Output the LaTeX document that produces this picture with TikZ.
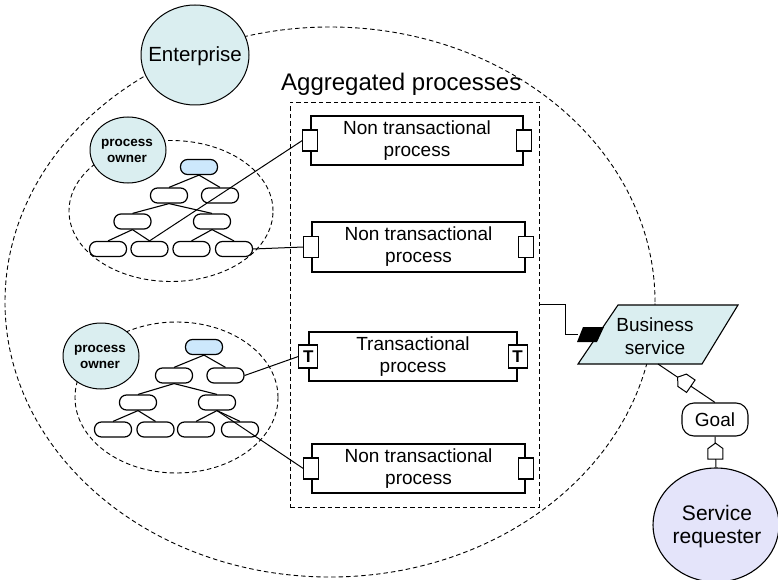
\documentclass[tikz,border=0pt]{standalone}
\usepackage{fontspec}
\setmainfont{Liberation Sans}
\usetikzlibrary{shapes.geometric}
\definecolor{cyanfill}{HTML}{DAEEF0}
\definecolor{lavfill}{HTML}{E4E4FA}
\definecolor{rootfill}{HTML}{CDE8FC}
\begin{document}
\begin{tikzpicture}[x=1pt,y=-1pt,
  dsh/.style={draw, dash pattern=on 4.5pt off 3pt, line width=0.9pt},
  ownr/.style={ellipse, draw, fill=cyanfill, line width=1pt, minimum width=76pt, minimum height=66pt, inner sep=0pt},
  ownrtext/.style={align=center, inner sep=0pt, font=\bfseries\fontsize{13.5}{15.5}\selectfont},
  tnode/.style={draw, rounded corners=7pt, minimum width=37pt, minimum height=15pt, inner sep=0pt, line width=1.2pt},
  proc/.style={draw, line width=1.3pt, inner sep=0pt, align=center, font=\fontsize{19}{22}\selectfont},
  port/.style={draw, fill=white, line width=1.1pt, minimum width=15pt, minimum height=21pt, inner sep=0pt},
  tport/.style={draw, fill=white, line width=1.1pt, minimum width=19pt, minimum height=23pt, inner sep=0pt, font=\bfseries\fontsize{17}{17}\selectfont},
  conn/.style={line width=1pt},
  tedge/.style={line width=1.1pt},
  iface/.pic={\draw[fill=white, line width=1pt] (-7.5,8) -- (7.5,8) -- (7.5,-2.5) -- (0,-8) -- (-7.5,-2.5) -- cycle;}
]
\useasboundingbox (0,0) rectangle (778,580);

% big enterprise boundary
\node[ellipse, dsh, minimum width=650pt, minimum height=550pt, inner sep=0pt] (entb) at (330,302) {};
% aggregated processes box
\node[dsh, minimum width=249pt, minimum height=405pt, inner sep=0pt] (agg) at (414.5,304.5) {};
\node[anchor=base west, font=\fontsize{24}{28}\selectfont, inner sep=0pt] (aggl) at (281,91) {Aggregated processes};

% group ellipses
\node[ellipse, dsh, minimum width=204pt, minimum height=141pt, inner sep=0pt] (grp1) at (171,211) {};
\node[ellipse, dsh, minimum width=203pt, minimum height=151pt, inner sep=0pt] (grp2) at (176.5,397.5) {};

% enterprise
\node[ellipse, draw, fill=cyanfill, line width=1pt, minimum width=108pt, minimum height=100pt, inner sep=0pt] (ent) at (195,55) {};
\node[font=\fontsize{20.5}{24}\selectfont, inner sep=0pt] (entt) at (195,56) {Enterprise};

% process owners
\node[ownr] (own1) at (128,150) {};
\node[ownrtext] (own1t) at (127,151) {process\\owner};
\node[ownr] (own2) at (101,356) {};
\node[ownrtext] (own2t) at (100,357) {process\\owner};

% tree 1
\node[tnode, fill=rootfill] (r1) at (199,167) {};
\node[tnode] (a1) at (169,195.5) {};
\node[tnode] (b1) at (220,195.5) {};
\node[tnode] (c1) at (132.5,221.5) {};
\node[tnode] (d1) at (212,221.5) {};
\node[tnode] (e1) at (108,249) {};
\node[tnode] (f1) at (149.5,249) {};
\node[tnode] (g1) at (191.5,249) {};
\node[tnode] (h1) at (234,249) {};
\draw[tedge] (r1.south) -- (a1.north);
\draw[tedge] (r1.south) -- (b1.north);
\draw[tedge] (a1.south) -- (c1.north);
\draw[tedge] (a1.south) -- (d1.north);
\draw[tedge] (c1.south) -- (e1.north);
\draw[tedge] (c1.south) -- (f1.north);
\draw[tedge] (d1.south) -- (g1.north);
\draw[tedge] (d1.south) -- (h1.north);

% tree 2
\node[tnode, fill=rootfill] (r2) at (204,347) {};
\node[tnode] (a2) at (174,375.5) {};
\node[tnode] (b2) at (225.5,375.5) {};
\node[tnode] (c2) at (138,402.5) {};
\node[tnode] (d2) at (217,402.5) {};
\node[tnode] (e2) at (113,429.5) {};
\node[tnode] (f2) at (155.5,429.5) {};
\node[tnode] (g2) at (196,429.5) {};
\node[tnode] (h2) at (240,429.5) {};
\draw[tedge] (r2.south) -- (a2.north);
\draw[tedge] (r2.south) -- (b2.north);
\draw[tedge] (a2.south) -- (c2.north);
\draw[tedge] (a2.south) -- (d2.north);
\draw[tedge] (c2.south) -- (e2.north);
\draw[tedge] (c2.south) -- (f2.north);
\draw[tedge] (d2.south) -- (g2.north);
\draw[tedge] (d2.south) -- (h2.north);

% processes
\node[proc, minimum width=212pt, minimum height=49pt] (p1) at (417,140.5) {Non transactional\\process};
\node[port] (p1l) at (p1.west) {};
\node[port] (p1r) at (p1.east) {};
\node[proc, minimum width=213pt, minimum height=50pt] (p2) at (418.5,247) {Non transactional\\process};
\node[port] (p2l) at (p2.west) {};
\node[port] (p2r) at (p2.east) {};
\node[proc, minimum width=208pt, minimum height=49pt] (p3) at (413,356.5) {Transactional\\process};
\node[tport] (p3l) at (p3.west) {T};
\node[tport] (p3r) at (p3.east) {T};
\node[proc, minimum width=213pt, minimum height=49pt] (p4) at (418.5,468.5) {Non transactional\\process};
\node[port] (p4l) at (p4.west) {};
\node[port] (p4r) at (p4.east) {};

% connectors trees -> processes
\draw[conn] (f1.north) -- (p1l.west);
\draw[conn] (h1.east) -- (p2l.west);
\draw[conn] (b2.east) -- (p3l.west);
\draw[conn] (d2.south) -- (p4l.west);

% business service
\coordinate (bsA) at (578,364);
\coordinate (bsB) at (618,305);
\coordinate (bsC) at (738,305);
\coordinate (bsD) at (702,364);
\draw[line width=1.1pt, fill=cyanfill] (bsA) -- (bsB) -- (bsC) -- (bsD) -- cycle;
\node[font=\fontsize{19}{23}\selectfont, align=center, inner sep=0pt] (bst) at (655,336) {Business\\service};
\coordinate (bsbot) at (658,364);
\coordinate (bsport) at (578,334.5);
\fill (577,342) -- (583,327) -- (604,327) -- (597,342) -- cycle;
\draw[conn] (agg.east) -- ++(26,0) |- (bsport);

% goal and requester
\node[draw, rounded corners=12pt, minimum width=66pt, minimum height=33pt, line width=1.1pt, inner sep=0pt, font=\fontsize{19}{22}\selectfont] (goal) at (715,419.5) {Goal};
\node[ellipse, draw, fill=lavfill, line width=1.1pt, minimum width=126pt, minimum height=114pt, inner sep=0pt] (req) at (716,525) {};
\node[font=\fontsize{21}{23}\selectfont, align=center, inner sep=0pt] (reqt) at (717,527) {Service\\requester};

\draw[conn] (bsbot) -- (goal.north) coordinate[pos=0.46] (i1);
\draw[conn] (goal.south) -- (req.north) coordinate[pos=0.47] (i2);
\pic[rotate=55.6] at (i1) {iface};
\pic at (i2) {iface};
\end{tikzpicture}
\end{document}
